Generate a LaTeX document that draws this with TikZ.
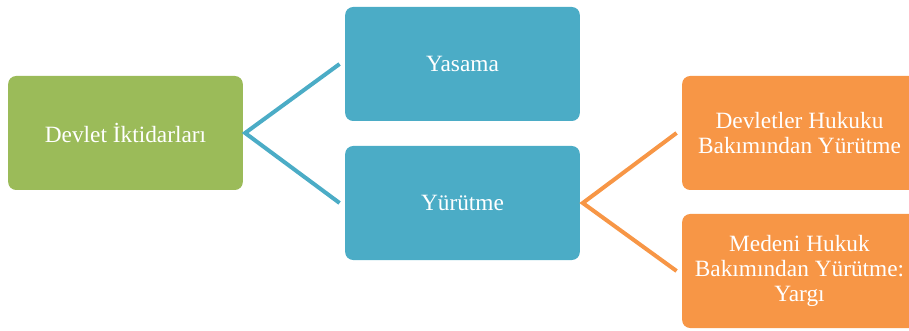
\documentclass[tikz,border=0pt]{standalone}
\usepackage{fontspec}
\setmainfont{Liberation Serif}
\usetikzlibrary{positioning}

\definecolor{greenbox}{HTML}{9BBB59}
\definecolor{bluebox}{HTML}{4BACC6}
\definecolor{orangebox}{HTML}{F79646}

\begin{document}
\begin{tikzpicture}[x=0.75pt,y=-0.75pt,
    box/.style={shape=rectangle,rounded corners=6pt,inner sep=2pt,
      minimum width=176pt,minimum height=85.5pt,align=center,
      text=white,font=\fontsize{17.5}{19}\selectfont},
    link/.style={line width=3pt,line join=miter}]

      \useasboundingbox (0,0) rectangle (909,331);

      \path node (iktidar) at (125.5,133) [box,fill=greenbox]
            {Devlet \.Iktidarları};

      \path node (yasama) at (462.5,64) [box,fill=bluebox] {Yasama};

      \path node (yurutme) at (462.5,203) [box,fill=bluebox] {Yürütme};

      \path node (devletler) at (799.5,133) [box,fill=orangebox]
            {Devletler Hukuku\\Bakımından Yürütme};

      \path node (medeni) at (799.5,271) [box,fill=orangebox]
            {Medeni Hukuk\\Bakımından Yürütme:\\Yargı};

      \coordinate (bluetip) at ([xshift=1.5pt]iktidar.east);
      \coordinate (orangetip) at ([xshift=2pt]yurutme.east);

      \draw[link,bluebox] ([xshift=-4pt]yasama.west) -- (bluetip)
           -- ([xshift=-4pt]yurutme.west);

      \draw[link,orangebox] ([xshift=-4pt]devletler.west) -- (orangetip)
           -- ([xshift=-4pt]medeni.west);
    \end{tikzpicture}
\end{document}
